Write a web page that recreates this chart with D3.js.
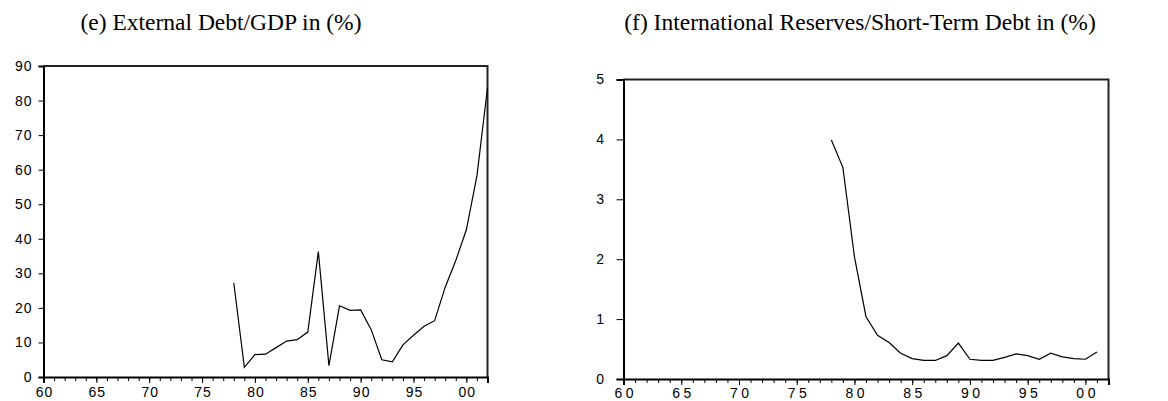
<!DOCTYPE html>
<html>
<head>
<meta charset="utf-8">
<script src="https://cdn.jsdelivr.net/npm/d3@7"></script>
<style>
  body { margin: 0; background: #fff; }
  svg { display: block; }
  .tick text { font-family: "Liberation Sans", Arial, sans-serif; fill: #000; }
  .title { font-family: "Liberation Serif", "Times New Roman", serif; font-size: 23.5px; fill: #000; }
</style>
</head>
<body>
<svg id="chart" width="1168" height="401"></svg>
<script>
// years 1978..2002 for (e), 1978..2001 for (f)
var debtYears = d3.range(1978, 2003);
var debtGdp = [27.2, 2.8, 6.5, 6.6, 8.5, 10.4, 10.8, 13.0, 36.3, 3.3, 20.6, 19.3, 19.4,
               13.7, 5.0, 4.4, 9.3, 12.1, 14.7, 16.3, 26.0, 33.7, 42.6, 58.2, 83.7];

var resYears = d3.range(1978, 2002);
var resDebt = [3.99, 3.53, 2.04, 1.04, 0.73, 0.61, 0.43, 0.34, 0.31, 0.31, 0.39, 0.60,
               0.33, 0.31, 0.31, 0.36, 0.42, 0.39, 0.33, 0.43, 0.37, 0.34, 0.33, 0.45];

var xTickYears = [1960, 1965, 1970, 1975, 1980, 1985, 1990, 1995, 2000];
var debtTicks = [0, 10, 20, 30, 40, 50, 60, 70, 80, 90];
var resTicks = [0, 1, 2, 3, 4, 5];

var svg = d3.select("#chart");

function yearLabel(y) {
    var s = String(y % 100);
    return s.length < 2 ? "0" + s : s;
}

function drawPanel(opt) {
    var x = d3.scaleLinear().domain([1960, 2002]).range([opt.left, opt.right]);
    var y = d3.scaleLinear().domain(opt.yDomain).range([opt.bottom, opt.top]);
    var g = svg.append("g");

    // frame (top + right)
    g.append("path")
        .attr("d", `M${opt.left},${opt.top}H${opt.right}V${opt.bottom}`)
        .attr("fill", "none")
        .attr("stroke", "#222")
        .attr("stroke-width", 2);

    // minor year ticks
    var minor = d3.axisBottom(x)
        .tickValues(d3.range(1960, 2003))
        .tickSize(4)
        .tickFormat("");
    g.append("g")
        .attr("transform", `translate(0,${opt.bottom})`)
        .call(minor)
        .call(a => a.select(".domain").remove())
        .selectAll("line").attr("stroke", "#000");

    var xAxis = d3.axisBottom(x)
        .tickValues(xTickYears)
        .tickSize(6)
        .tickPadding(opt.xPad)
        .tickFormat(yearLabel);
    g.append("g")
        .attr("transform", `translate(0,${opt.bottom})`)
        .call(xAxis)
        .call(a => a.select(".domain").attr("stroke-width", 2).attr("stroke", "#000"))
        .call(a => a.selectAll("line").attr("stroke", "#000"))
        .selectAll("text")
        .style("font-size", "14px")
        .style("letter-spacing", opt.spacing + "px")
        .attr("dx", (opt.spacing / 2) + "px");

    var yAxis = d3.axisLeft(y)
        .tickValues(opt.yTicks)
        .tickSize(opt.yTick)
        .tickPadding(opt.yPad)
        .tickFormat(d3.format("d"));
    g.append("g")
        .attr("transform", `translate(${opt.left},0)`)
        .call(yAxis)
        .call(a => a.select(".domain").attr("stroke-width", 2).attr("stroke", "#000"))
        .call(a => a.selectAll("line").attr("stroke", "#000"))
        .selectAll("text")
        .style("font-size", "14px")
        .style("letter-spacing", opt.spacing + "px");

    var line = d3.line()
        .x((d, i) => x(opt.years[i]))
        .y(d => y(d));
    g.append("path")
        .datum(opt.values)
        .attr("d", line)
        .attr("fill", "none")
        .attr("stroke", "#000")
        .attr("stroke-width", 1.2);

    svg.append("text")
        .attr("class", "title")
        .attr("x", opt.titleX)
        .attr("y", 30)
        .attr("text-anchor", "middle")
        .text(opt.title);
}

drawPanel({
    left: 43.5, right: 487.5, top: 66, bottom: 377,
    yDomain: [0, 90], yTicks: debtTicks, yTick: 5, yPad: 6, spacing: 1, xPad: 4,
    years: debtYears, values: debtGdp,
    title: "(e) External Debt/GDP in (%)", titleX: 221
});

drawPanel({
    left: 623.5, right: 1108.5, top: 79.5, bottom: 379,
    yDomain: [0, 5], yTicks: resTicks, yTick: 7, yPad: 9, spacing: 3.5, xPad: 3,
    years: resYears, values: resDebt,
    title: "(f) International Reserves/Short-Term Debt in (%)", titleX: 860
});
</script>
</body>
</html>
